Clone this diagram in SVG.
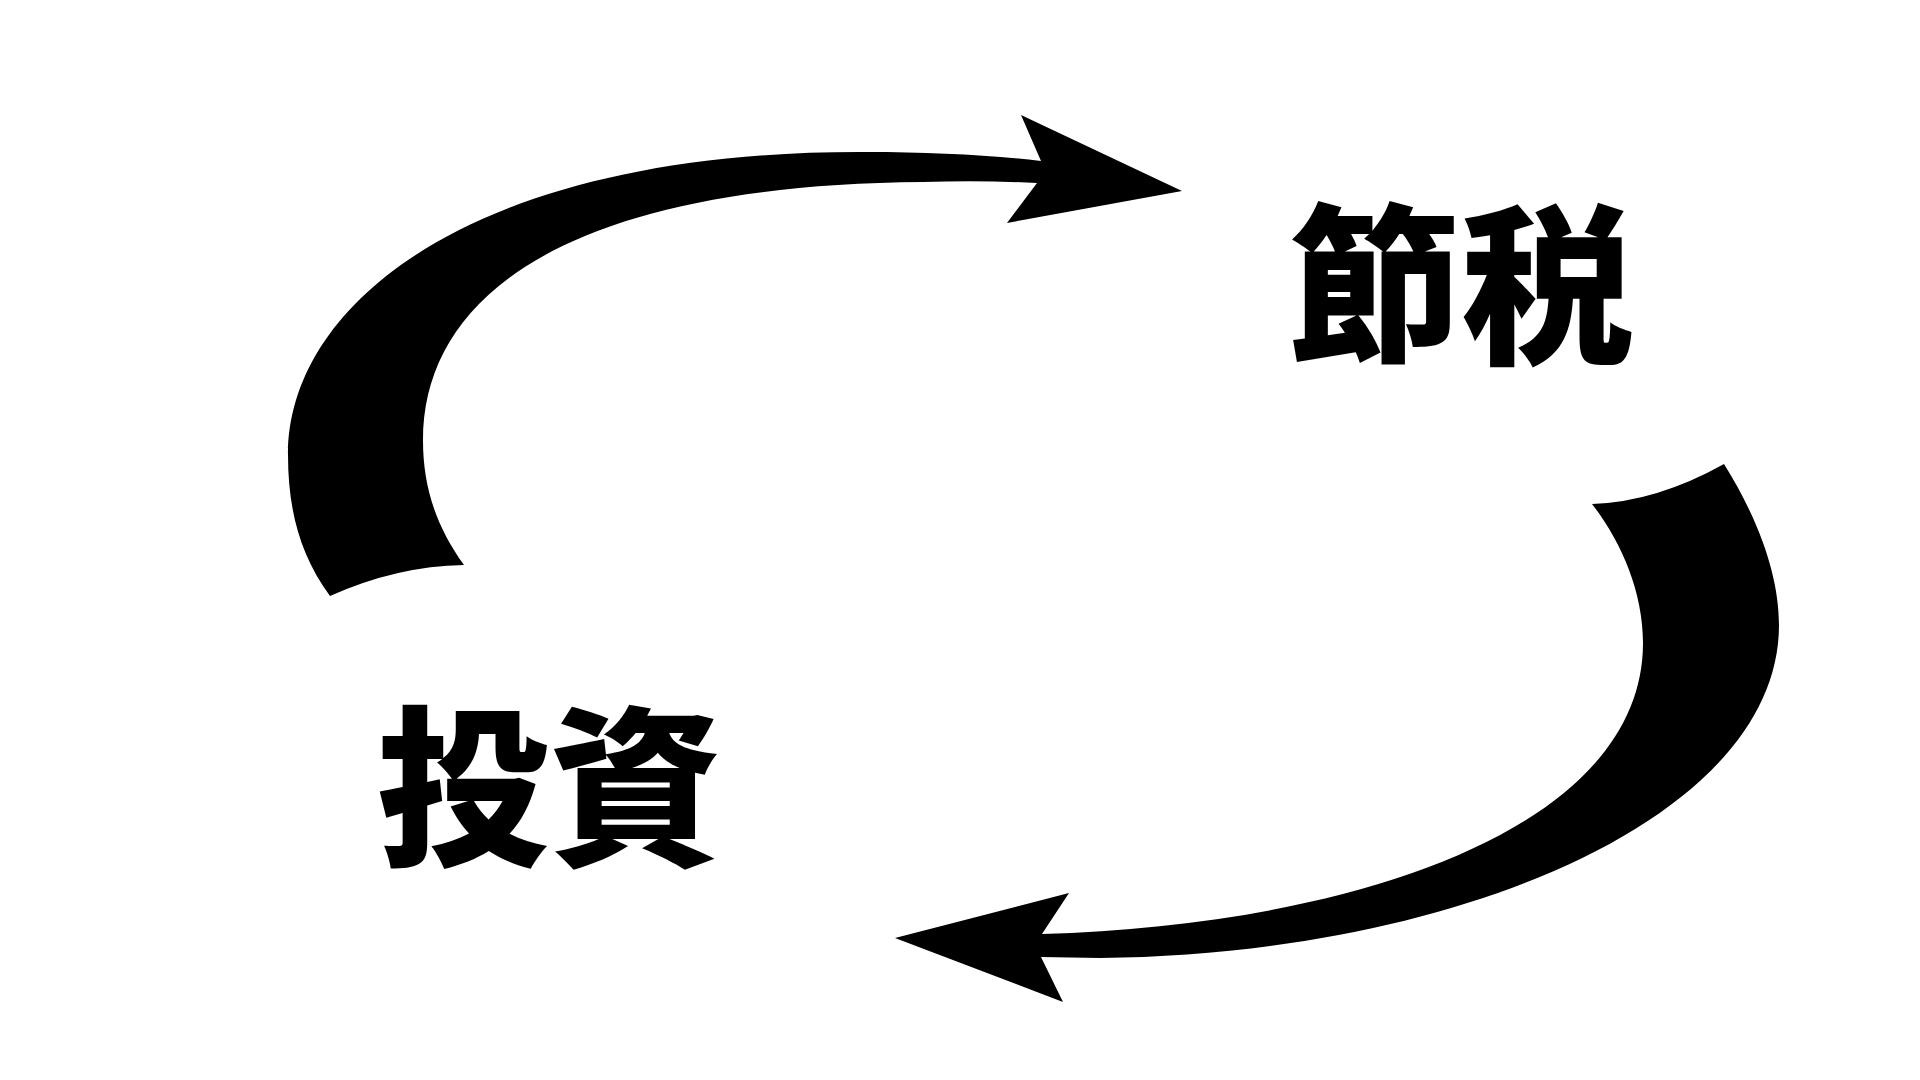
<svg xmlns="http://www.w3.org/2000/svg" width="1920" height="1080" viewBox="0 0 1920 1080">
<style>
.arrow{fill:#000;stroke:none}
.lbl{font-family:"Noto Sans CJK JP","Noto Sans CJK SC",sans-serif;font-weight:900;font-size:172px;fill:#000;text-anchor:middle}
</style>
<rect width="1920" height="1080" fill="#fff"/>
<g id="connectors">
<path class="arrow" d="M1041,161 L1021,115 L1182,191 L1007,223 L1037,183 Q980,180 923,182 C560,185 423,300 423,440 C423,485 435,525 464,565 Q397,566 330,596 C300,555 288,510 288,455 C288,300 480,150 867,152 C930,152 990,155 1041,161 Z"/>
<path class="arrow" d="M1724,464 C1762,525 1779,580 1779,625 C1779,820 1450,955 1100,958 L1041,957 L1063,1002 L895,938 L1069,893 L1042,934 C1350,925 1643,830 1643,643 C1643,590 1620,540 1592,504 Q1656,502 1724,464 Z"/>
</g>
<g id="node-setsuzei">
<text class="lbl" x="1461" y="350">節税</text>
</g>
<g id="node-toushi">
<text class="lbl" x="549" y="852">投資</text>
</g>
</svg>
